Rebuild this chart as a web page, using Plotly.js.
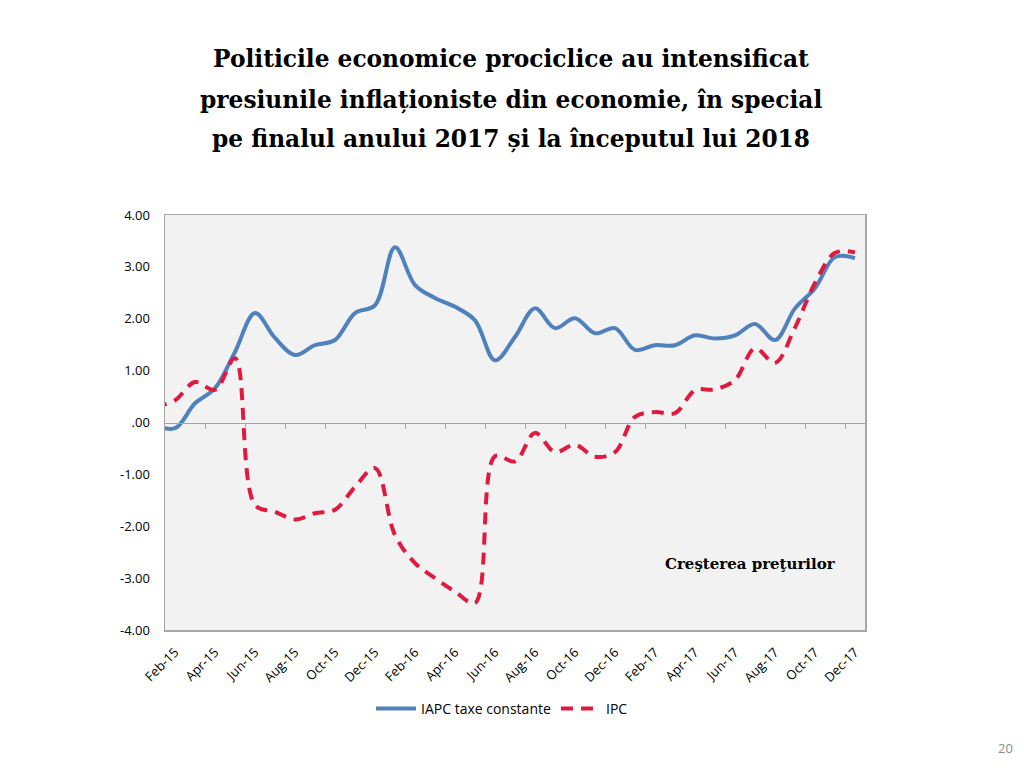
<!DOCTYPE html>
<html>
<head>
<meta charset="utf-8">
<script src="https://cdn.plot.ly/plotly-3.0.1.min.js"></script>
<style>html,body{margin:0;padding:0;background:#fff;}#chart{width:1024px;height:768px;}</style>
</head>
<body>
<div id="chart"></div>
<script>
// Months (Jan-15 is only partly visible at the left edge)
const months = ["Jan-15","Feb-15","Mar-15","Apr-15","May-15","Jun-15","Jul-15","Aug-15","Sep-15","Oct-15","Nov-15","Dec-15",
  "Jan-16","Feb-16","Mar-16","Apr-16","May-16","Jun-16","Jul-16","Aug-16","Sep-16","Oct-16","Nov-16","Dec-16",
  "Jan-17","Feb-17","Mar-17","Apr-17","May-17","Jun-17","Jul-17","Aug-17","Sep-17","Oct-17","Nov-17","Dec-17"];
const iapc = [-0.05,-0.11,0.37,0.66,1.36,2.11,1.63,1.30,1.49,1.59,2.11,2.26,
  3.38,2.65,2.40,2.23,1.97,1.20,1.65,2.20,1.82,2.01,1.72,1.82,
  1.40,1.49,1.49,1.68,1.62,1.68,1.90,1.59,2.20,2.59,3.19,3.17];
const ipc = [0.30,0.43,0.78,0.63,1.24,-1.59,-1.72,-1.87,-1.75,-1.68,-1.24,-0.88,
  -2.17,-2.71,-3.00,-3.26,-3.48,-0.65,-0.75,-0.20,-0.57,-0.43,-0.66,-0.57,
  0.11,0.20,0.18,0.62,0.64,0.82,1.43,1.15,1.83,2.69,3.27,3.28];
const xLabels = ["Feb-15","Apr-15","Jun-15","Aug-15","Oct-15","Dec-15","Feb-16","Apr-16","Jun-16","Aug-16","Oct-16","Dec-16",
  "Feb-17","Apr-17","Jun-17","Aug-17","Oct-17","Dec-17"];
const yTicks = [-4,-3,-2,-1,0,1,2,3,4];
const yLabels = ["-4.00","-3.00","-2.00","-1.00",".00","1.00","2.00","3.00","4.00"];
const seriesNames = ["IAPC taxe constante","IPC"];
const titleLines = ["Politicile economice prociclice au intensificat",
  "presiunile inflaționiste din economie, în special",
  "pe finalul anului 2017 și la începutul lui 2018"];
const noteText = "Creşterea preţurilor";
const pageNo = "20";

const xIdx = months.map((m, i) => i);
const labelIdx = xLabels.map(l => months.indexOf(l));
const boundaryIdx = [];
for (let i = 0; i + 1 < labelIdx.length; i++) boundaryIdx.push(labelIdx[i] + 1.5);

const BLUE = '#4f81bd', RED = '#e0193f', AX = '#a6a6a6';
const font = 'Open Sans, sans-serif';
const serif = 'DejaVu Serif, serif';

const traces = [
  {x: xIdx, y: iapc, type: 'scatter', mode: 'lines', name: seriesNames[0],
   line: {color: BLUE, width: 4, shape: 'spline', smoothing: 1}, hoverinfo: 'skip'},
  {x: xIdx, y: ipc, type: 'scatter', mode: 'lines', name: seriesNames[1],
   line: {color: RED, width: 4, shape: 'spline', smoothing: 1, dash: '12px,8px'}, hoverinfo: 'skip'},
  {x: xIdx, y: xIdx.map(() => null), xaxis: 'x2', yaxis: 'y', type: 'scatter', mode: 'lines',
   showlegend: false, hoverinfo: 'skip'}
];

const L = 165, R = 159, T = 215, B = 138;
const pw = 1024 - L - R, ph = 768 - T - B;
const px = v => (v - L) / pw;
const py = v => (768 - B - v) / ph;

const annotations = [];
const tY = [58, 100, 139];
titleLines.forEach((t, i) => annotations.push({
  text: '<b>' + t + '</b>', xref: 'paper', yref: 'paper', x: px(511), y: py(tY[i]),
  xanchor: 'center', yanchor: 'middle', showarrow: false,
  font: {family: serif, size: 23.3, color: '#000'}
}));
annotations.push({text: '<b>' + noteText + '</b>', xref: 'paper', yref: 'paper', x: px(750), y: py(564),
  xanchor: 'center', yanchor: 'middle', showarrow: false, font: {family: serif, size: 15, color: '#000'}});
annotations.push({text: pageNo, xref: 'paper', yref: 'paper', x: px(1005), y: py(748),
  xanchor: 'center', yanchor: 'middle', showarrow: false, font: {family: font, size: 13, color: '#8c8c8c'}});

const layout = {
  width: 1024, height: 768,
  margin: {l: L, r: R, t: T, b: B, pad: 0},
  paper_bgcolor: '#ffffff', plot_bgcolor: '#f2f2f2',
  showlegend: true,
  legend: {orientation: 'h', x: px(502), xanchor: 'center', y: py(693), yanchor: 'top', itemwidth: 40,
    font: {family: font, size: 14, color: '#000'}, bgcolor: 'rgba(0,0,0,0)'},
  xaxis: {range: [0.5, 35.5], tickmode: 'array', tickvals: labelIdx, ticktext: xLabels, tickangle: -45,
    showline: true, mirror: true, linecolor: AX, linewidth: 1.5, showgrid: false, zeroline: false,
    ticks: 'outside', ticklen: 8, tickcolor: 'rgba(0,0,0,0)', tickfont: {family: font, size: 13, color: '#000'}},
  xaxis2: {range: [0.5, 35.5], overlaying: 'x', anchor: 'free', position: 0.5, side: 'bottom',
    tickmode: 'array', tickvals: boundaryIdx, showticklabels: false, ticks: 'outside', ticklen: 5,
    tickcolor: AX, tickwidth: 1, showline: true, linecolor: AX, linewidth: 1.5, showgrid: false, zeroline: false},
  yaxis: {range: [-4, 4], tickmode: 'array', tickvals: yTicks, ticktext: yLabels,
    showline: true, mirror: true, linecolor: AX, linewidth: 1.5, showgrid: false, zeroline: false,
    ticks: 'outside', ticklen: 11, tickcolor: 'rgba(0,0,0,0)', tickfont: {family: font, size: 13, color: '#000'}},
  annotations: annotations
};

Plotly.newPlot('chart', traces, layout, {displayModeBar: false, staticPlot: true});
</script>
</body>
</html>
